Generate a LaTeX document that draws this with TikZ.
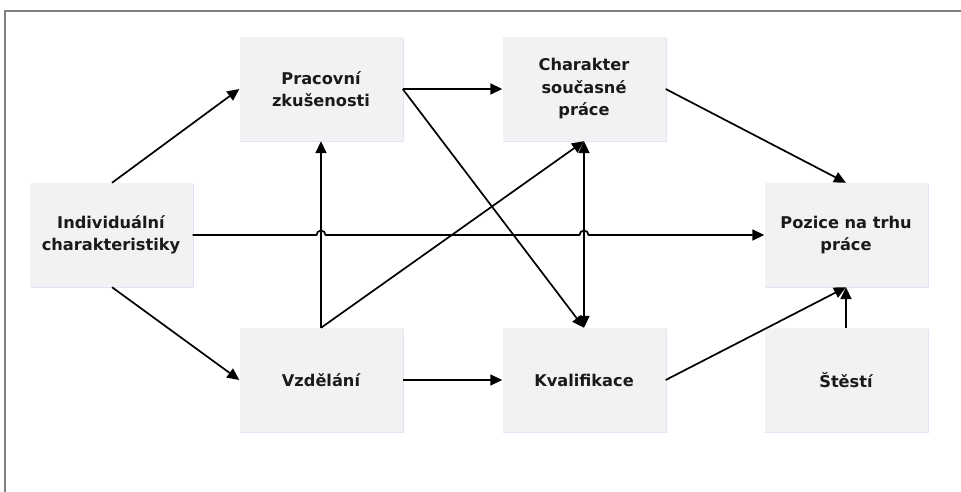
\documentclass[tikz,border=0pt]{standalone}
\usepackage{fontspec}
\setmainfont{DejaVu Sans}
\usetikzlibrary{arrows.meta,calc}
\definecolor{boxfill}{HTML}{F2F2F2}
\definecolor{boxshadow}{HTML}{DCE6F4}
\definecolor{frameline}{HTML}{7F7F7F}
\definecolor{txt}{HTML}{1A1A1A}
\tikzset{
  box/.style={fill=boxfill, minimum width=163pt, minimum height=104pt, inner sep=0pt,
    align=center, text=txt, font=\fontsize{16.2}{22.5}\selectfont\bfseries},
  conn/.style={line width=1.7pt, -{Triangle[length=12pt,width=11pt]}},
  dconn/.style={line width=1.7pt, {Triangle[length=12pt,width=11pt]}-{Triangle[length=12pt,width=11pt]}},
}
\begin{document}
\begin{tikzpicture}[x=1pt,y=-1pt]
\useasboundingbox (0,0) rectangle (961,492);
\draw[frameline, line width=1.5pt] (5,492) -- (5,11) -- (961,11);
% nodes
\node[box] (ind) at (111,235) {Individuální\\charakteristiky};
\node[box] (prac) at (321,89) {Pracovní\\zkušenosti};
\node[box] (char) at (584,89) {Charakter\\současné\\práce};
\node[box] (poz) at (846,235) {Pozice na trhu\\práce};
\node[box] (vzd) at (321,380) {Vzdělání};
\node[box] (kval) at (584,380) {Kvalifikace};
\node[box] (stes) at (846,380) {Štěstí};
% shadows
\foreach \n in {ind,prac,char,poz,vzd,kval,stes}{
  \draw[boxshadow, line width=1.2pt] ([xshift=1pt,yshift=-0.6pt]\n.south west) -- ([xshift=0.6pt,yshift=-0.6pt]\n.south east) -- ([xshift=0.6pt,yshift=-1pt]\n.north east);
}
% connectors
\draw[conn] ([xshift=1pt]ind.north) -- (prac.west);
\draw[conn] ([xshift=1pt]ind.south) -- (vzd.west);
\coordinate (j1) at (prac.south |- ind.east);
\coordinate (j2) at (char.south |- ind.east);
\draw[conn] (ind.east) -- ([xshift=-4.5pt]j1) arc[start angle=180,end angle=0,radius=4.5pt]
  -- ([xshift=-4.5pt]j2) arc[start angle=180,end angle=0,radius=4.5pt] -- (poz.west);
\draw[conn] (prac.east) -- (char.west);
\draw[conn] (prac.east) -- (kval.north);
\draw[conn] (vzd.north) -- (prac.south);
\draw[conn] (vzd.north) -- (char.south);
\draw[dconn] (char.south) -- (kval.north);
\draw[conn] (char.east) -- (poz.north);
\draw[conn] (vzd.east) -- (kval.west);
\draw[conn] (kval.east) -- (poz.south);
\draw[conn] (stes.north) -- (poz.south);
\end{tikzpicture}
\end{document}
